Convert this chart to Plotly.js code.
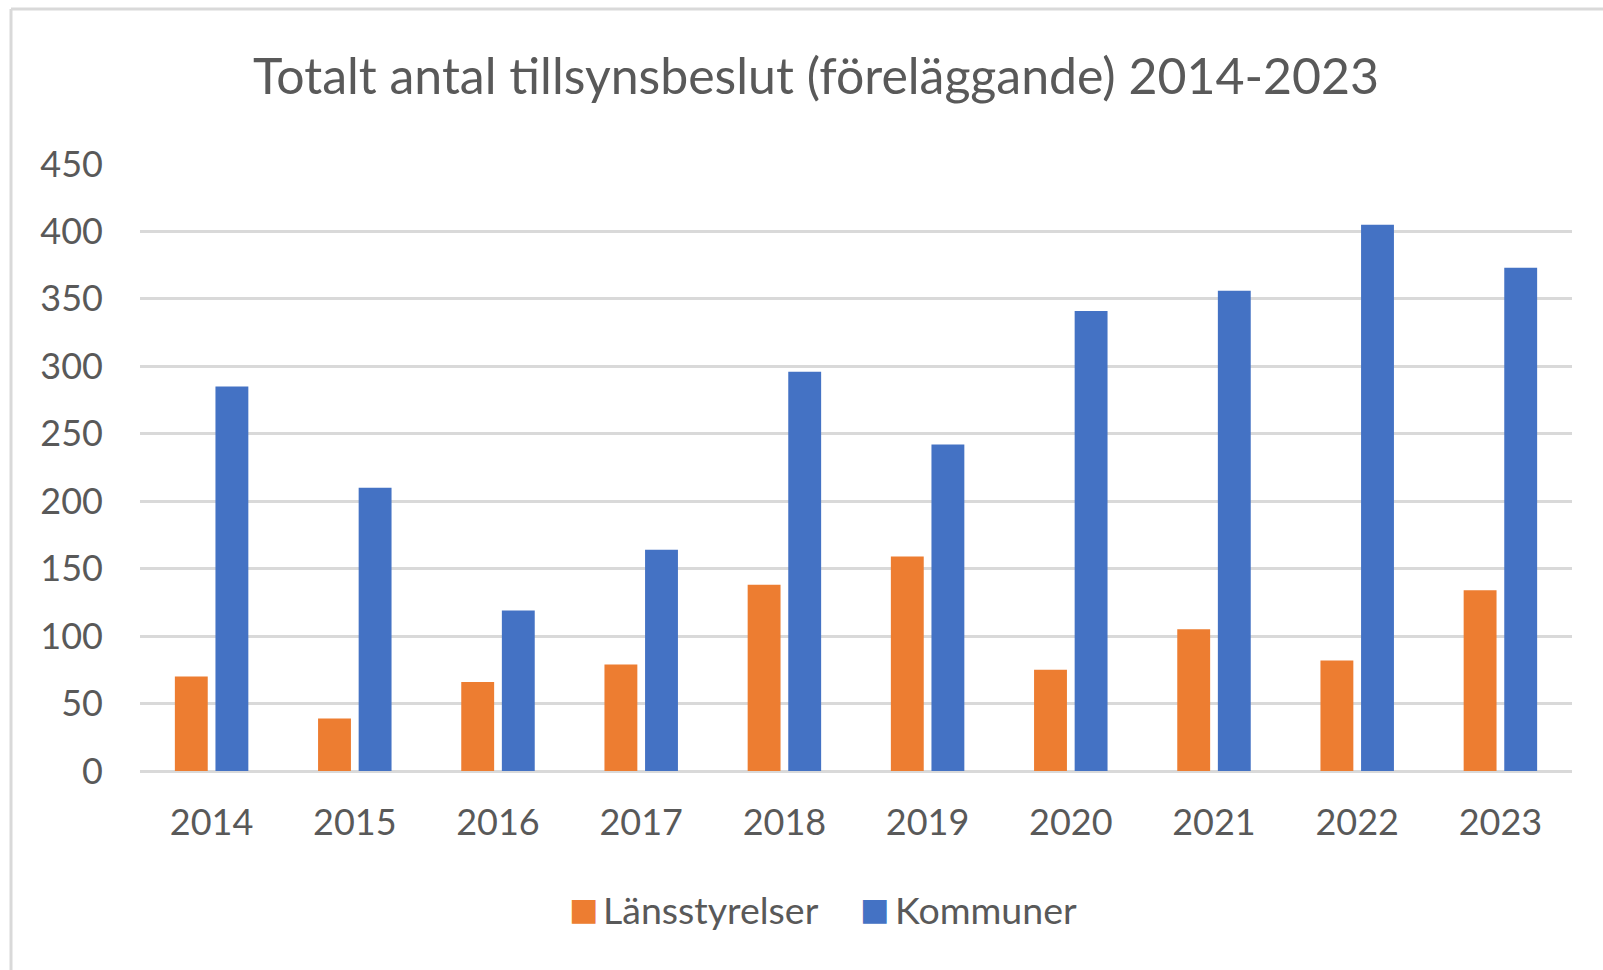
<!DOCTYPE html>
<html>
<head>
<meta charset="utf-8">
<script src="https://cdn.plot.ly/plotly-3.0.1.min.js"></script>
<style>html,body{margin:0;padding:0;background:#fff;}#chart{width:1603px;height:970px;}</style>
</head>
<body>
<div id="chart"></div>
<script>
const years = ['2014','2015','2016','2017','2018','2019','2020','2021','2022','2023'];
const lansstyrelser = [70, 39, 66, 79, 138, 159, 75, 105, 82, 134];
const kommuner = [285, 210, 119, 164, 296, 242, 341, 356, 405, 373];
const seriesNames = ['Länsstyrelser', 'Kommuner'];
const seriesColors = ['#ED7D31', '#4472C4'];
const yTicks = [0, 50, 100, 150, 200, 250, 300, 350, 400, 450];
const chartTitle = 'Totalt antal tillsynsbeslut (föreläggande) 2014-2023';

const W = 1603, H = 970;
const M = {l: 140, r: 31, t: 164, b: 199};
const pw = W - M.l - M.r, ph = H - M.t - M.b;
const FONT = 'Lato, "Open Sans", sans-serif';
const TXT = '#595959';

const seriesValues = [lansstyrelser, kommuner];
const traces = seriesValues.map((vals, i) => ({
  type: 'bar',
  name: seriesNames[i],
  x: years,
  y: vals,
  marker: {color: seriesColors[i], line: {width: 0}},
  hoverinfo: 'x+y+name'
}));

// paper-coordinate helpers (container pixels -> plot-area paper fraction)
const px = x => (x - M.l) / pw;
const py = y => (H - M.b - y) / ph;

const legendKeyX = [583, 874.5];
const legendTextX = [601, 893];
const legendY = 909;
const annotations = [];
seriesNames.forEach((n, i) => {
  annotations.push({
    xref: 'paper', yref: 'paper',
    x: px(legendKeyX[i]), y: py(legendY),
    xanchor: 'center', yanchor: 'middle',
    showarrow: false,
    text: '■',
    font: {family: 'DejaVu Sans', size: 31, color: seriesColors[i]}
  });
  annotations.push({
    xref: 'paper', yref: 'paper',
    x: px(legendTextX[i]), y: py(legendY),
    xanchor: 'left', yanchor: 'middle',
    showarrow: false,
    text: n,
    font: {family: FONT, size: 37.5, color: TXT}
  });
});

const layout = {
  width: W, height: H,
  margin: M,
  paper_bgcolor: '#ffffff',
  plot_bgcolor: '#ffffff',
  showlegend: false,
  barmode: 'group',
  bargap: 0.433,
  bargroupgap: 0.19,
  title: {
    text: chartTitle,
    font: {family: FONT, size: 50, color: TXT},
    x: 816 / W, xanchor: 'center', xref: 'container',
    y: 1 - 76 / H, yanchor: 'middle', yref: 'container'
  },
  xaxis: {
    type: 'category',
    showgrid: false,
    showline: false,
    zeroline: false,
    ticks: '',
    tickfont: {family: FONT, size: 36, color: TXT},
    ticklabelstandoff: 27
  },
  yaxis: {
    range: [0, 450],
    tickvals: yTicks,
    ticktext: yTicks.map(String),
    showgrid: true,
    gridcolor: '#D9D9D9',
    gridwidth: 3,
    zeroline: true,
    zerolinecolor: '#D9D9D9',
    zerolinewidth: 3,
    showline: false,
    ticks: '',
    tickfont: {family: FONT, size: 36, color: TXT},
    ticklabelstandoff: 36
  },
  annotations: annotations,
  shapes: [
    {type: 'line', xref: 'paper', yref: 'paper', x0: px(11), x1: px(11), y0: py(9), y1: py(975), line: {color: '#D9D9D9', width: 3}},
    {type: 'line', xref: 'paper', yref: 'paper', x0: px(11), x1: px(1610), y0: py(9), y1: py(9), line: {color: '#D9D9D9', width: 3}}
  ],
  font: {family: FONT, color: TXT}
};

Plotly.newPlot('chart', traces, layout, {displayModeBar: false, staticPlot: true});
</script>
</body>
</html>
